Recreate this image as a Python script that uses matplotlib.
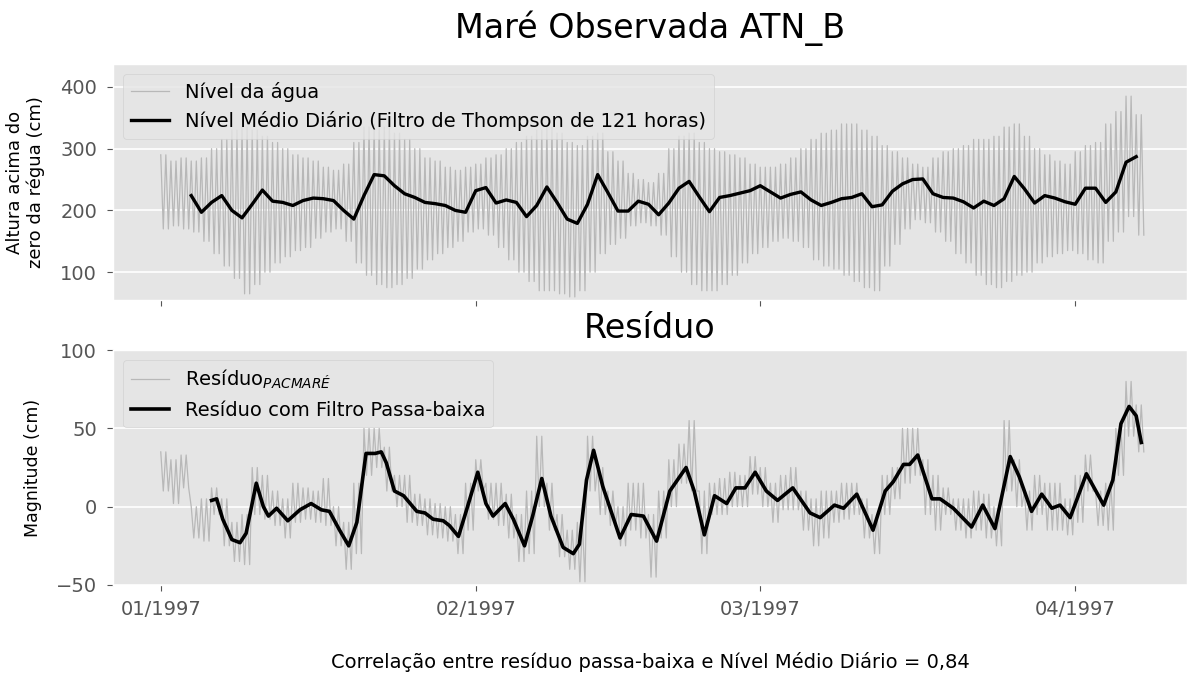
import numpy as np
import pandas as pd
import matplotlib
matplotlib.use("Agg")
import matplotlib.pyplot as plt
import matplotlib.dates as mdates

plt.style.use("ggplot")

# Reference time: days are counted from 01/01/1997 00h
t0 = pd.Timestamp("1997-01-01")

# Observed water level: daily high and low water (cm), days 0..96
tide_hi = [290, 280, 285, 280, 285, 300, 315, 330, 335, 330,
           320, 310, 300, 290, 285, 280, 270, 265, 275, 310,
           335, 340, 335, 325, 315, 300, 285, 280, 270, 265,
           270, 275, 285, 290, 300, 310, 320, 330, 335, 325,
           310, 305, 320, 325, 295, 280, 260, 250, 245, 260,
           300, 320, 325, 310, 300, 295, 290, 285, 275, 270,
           270, 275, 285, 300, 315, 325, 330, 340, 340, 330,
           320, 305, 295, 285, 275, 270, 285, 295, 300, 305,
           315, 315, 320, 335, 340, 320, 300, 290, 280, 275,
           295, 305, 310, 340, 360, 385, 355]
tide_lo = [170, 175, 170, 165, 150, 130, 110, 90, 65, 80,
           100, 115, 125, 135, 140, 155, 165, 170, 150, 115,
           95, 80, 75, 80, 90, 105, 120, 130, 140, 150,
           165, 170, 160, 140, 120, 100, 85, 70, 70, 65,
           60, 70, 100, 130, 145, 155, 175, 180, 175, 160,
           125, 100, 80, 70, 70, 80, 95, 115, 130, 140,
           150, 155, 150, 140, 120, 110, 105, 95, 85, 75,
           70, 110, 145, 170, 185, 180, 165, 150, 130, 115,
           95, 80, 75, 85, 95, 100, 115, 125, 130, 135,
           130, 120, 115, 150, 165, 190, 160]

# Daily mean level (Thompson 121 h filter), days 3..96
mean_first_day = 3
mean_level = [224, 197, 213, 224, 200, 188, 210, 233, 215, 213,
              208, 216, 220, 219, 216, 200, 186, 224, 258, 256,
              240, 227, 221, 213, 211, 208, 200, 197, 232, 237,
              212, 217, 213, 190, 208, 238, 213, 186, 179, 210,
              258, 229, 199, 199, 215, 210, 193, 212, 236, 247,
              222, 198, 221, 224, 228, 232, 240, 230, 220, 226,
              230, 217, 208, 213, 219, 221, 227, 206, 209, 231,
              243, 250, 251, 227, 221, 220, 214, 204, 215, 208,
              219, 255, 235, 212, 224, 220, 214, 210, 236, 236,
              213, 230, 278, 287]

# PACMARE residual: daily upper and lower values (cm), days 0..96
res_hi = [35, 30, 33, 0, 5, 12, 5, -10, -5, 25,
          20, 10, 5, 15, 12, 10, 18, 0, -10, 15,
          50, 50, 38, 20, 20, 8, 5, 2, 0, -5,
          15, 30, 15, 15, 8, -5, 10, 45, 15, -5,
          -15, -10, 45, 25, 10, 0, 15, 15, -5, 10,
          30, 40, 55, 10, 15, 18, 22, 20, 32, 25,
          15, 20, 25, 10, 5, 10, 10, 15, 15, 5,
          -5, 20, 25, 50, 50, 30, 20, 12, 5, 5,
          10, 8, 0, 55, 30, 10, 20, 15, 15, 5,
          20, 33, 10, 15, 50, 80, 65]
res_lo = [10, 2, 12, -20, -22, -5, -25, -35, -37, -5,
          -8, -12, -20, -10, -8, -10, -12, -25, -40, -30,
          20, 25, 10, 0, -10, -12, -18, -20, -22, -30,
          -15, 10, -8, -12, -20, -35, -30, 0, -15, -32,
          -40, -48, 10, -5, -12, -25, -15, -20, -45, -20,
          0, 15, 10, -30, -5, -5, 0, 0, 8, 0,
          -10, -2, -2, -15, -25, -20, -10, -8, -5, -20,
          -30, -5, 5, 15, 20, -5, -15, -5, -15, -20,
          -15, -20, -25, 10, 0, -15, -5, -15, -15, -18,
          -10, 10, -12, -15, 20, 45, 35]

# Low-pass filtered residual (cm)
lp_days = [5.0, 5.5, 6.1, 7.0, 7.8, 8.4, 9.4, 10.1, 10.6, 11.4,
           12.5, 13.7, 14.8, 15.8, 16.6, 17.6, 18.5, 19.3, 20.2, 21.1,
           21.7, 22.2, 23.0, 23.9, 25.2, 26.0, 26.8, 27.8, 28.4, 29.3,
           30.1, 31.2, 32.0, 32.7, 33.9, 34.7, 35.8, 36.6, 37.5, 38.4,
           39.6, 40.6, 41.2, 41.9, 42.6, 43.5, 45.2, 46.3, 47.5, 48.8,
           50.1, 51.7, 52.5, 53.5, 54.5, 55.7, 56.6, 57.5, 58.5, 59.6,
           60.7, 62.2, 63.9, 64.9, 66.3, 67.2, 68.5, 70.1, 71.3, 72.1,
           73.1, 73.7, 74.5, 75.9, 76.7, 78.0, 79.8, 80.9, 82.1, 83.6,
           84.5, 85.7, 86.7, 87.7, 88.5, 89.5, 91.1, 92.8, 93.7, 94.5,
           95.3, 96.0, 96.5]
lp_vals = [4, 5, -8, -21, -23, -17, 15, 0, -6, -1,
           -9, -2, 2, -2, -3, -15, -25, -10, 34, 34,
           35, 28, 10, 7, -3, -4, -8, -9, -12, -19,
           -2, 22, 2, -6, 2, -8, -25, -6, 18, -6,
           -26, -30, -24, 17, 36, 13, -20, -5, -6, -22,
           10, 25, 10, -18, 7, 2, 12, 12, 22, 10,
           4, 12, -4, -7, 1, -1, 8, -15, 10, 16,
           27, 27, 33, 5, 5, -1, -13, 1, -14, 32,
           19, -3, 8, -1, 1, -7, 21, 1, 17, 53,
           64, 58, 41]

corr = 0.84


def to_dates(days):
    return t0 + pd.to_timedelta(np.asarray(days, dtype=float), unit="D")


# two high and two low waters per day
n_days = len(tide_hi)
half_steps = np.tile([0.0, 0.25, 0.5, 0.75], n_days) + np.repeat(np.arange(n_days), 4)
tide_t = to_dates(half_steps)
tide_v = np.column_stack([tide_hi, tide_lo, tide_hi, tide_lo]).ravel()
res_v = np.column_stack([res_hi, res_lo, res_hi, res_lo]).ravel()
mean_t = to_dates(np.arange(len(mean_level)) + mean_first_day)
lp_t = to_dates(lp_days)

fig = plt.figure(figsize=(11.87, 6.73), dpi=100)
ax1 = fig.add_axes([0.0952, 0.5542, 0.9048, 0.3507])
ax2 = fig.add_axes([0.0952, 0.1308, 0.9048, 0.3490], sharex=ax1)

# observed tide
ax1.plot(tide_t, tide_v, color="#b8b8b8", lw=0.9, label="Nível da água")
ax1.plot(mean_t, mean_level, color="black", lw=2.4,
         label="Nível Médio Diário (Filtro de Thompson de 121 horas)")
ax1.set_ylim(55, 437)
ax1.set_yticks([100, 200, 300, 400])
ax1.set_title("Maré Observada ATN_B", fontsize=24, color="black", pad=19)
ax1.set_ylabel("Altura acima do\nzero da régua (cm)", fontsize=13, color="black")
ax1.yaxis.set_label_coords(-0.063, 0.5)
ax1.legend(loc="upper left", fontsize=14)
plt.setp(ax1.get_xticklabels(), visible=False)

# residual
ax2.plot(tide_t, res_v, color="#b8b8b8", lw=0.9, label="Resíduo$_{PACMARÉ}$")
ax2.plot(lp_t, lp_vals, color="black", lw=2.6, label="Resíduo com Filtro Passa-baixa")
ax2.set_ylim(-50, 100)
ax2.set_yticks([-50, 0, 50, 100])
ax2.set_title("Resíduo", fontsize=24, color="black", pad=9)
ax2.set_ylabel("Magnitude (cm)", fontsize=12.5, color="black")
ax2.yaxis.set_label_coords(-0.066, 0.5)
ax2.legend(loc="upper left", fontsize=14)

ax2.set_xlim(t0 + pd.Timedelta(days=-4.7), t0 + pd.Timedelta(days=101))
ax2.xaxis.set_major_locator(mdates.MonthLocator())
ax2.xaxis.set_major_formatter(mdates.DateFormatter("%m/%Y"))

for ax in (ax1, ax2):
    ax.grid(False, axis="x")
    ax.grid(True, axis="y", color="white", lw=1.2)
    ax.tick_params(axis="both", labelsize=14, colors="#555555", length=4.5)
    ax.tick_params(axis="y", pad=7)
    ax.tick_params(axis="x", pad=6)

label = f"Correlação entre resíduo passa-baixa e Nível Médio Diário = {corr:.2f}"
fig.text(0.5476, 0.0163, label.replace(".", ","), ha="center", va="center", fontsize=14)

fig.savefig("out.png", dpi=100)
